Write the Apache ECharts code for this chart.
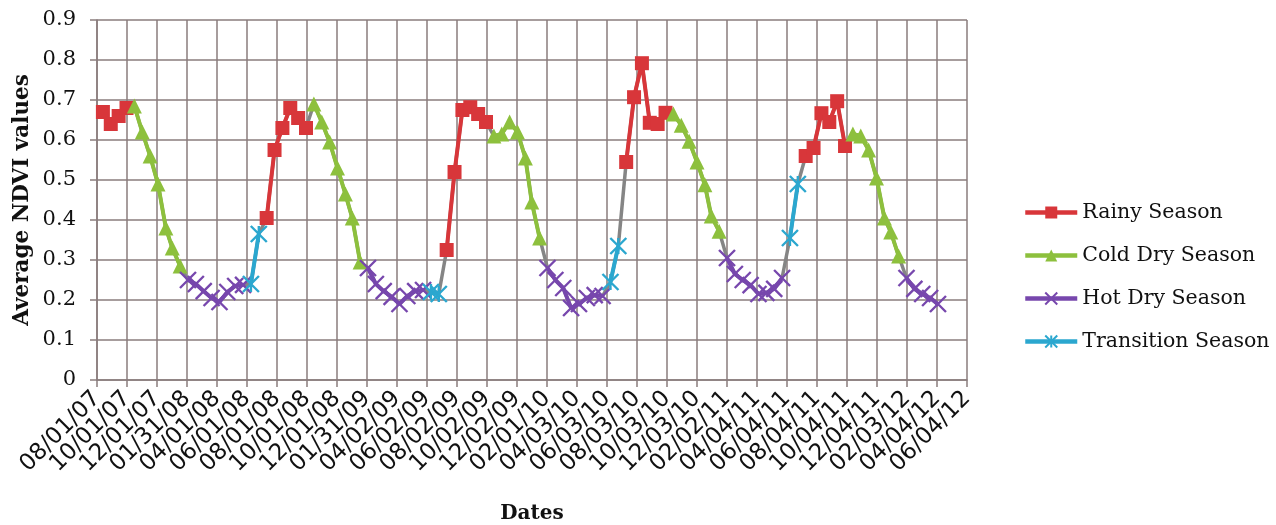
<!DOCTYPE html>
<html>
<head>
<meta charset="utf-8">
<script src="https://cdn.jsdelivr.net/npm/echarts@6/dist/echarts.min.js"></script>
<style>
html,body{margin:0;padding:0;background:#fff;}
#chart{width:1276px;height:525px;}
</style>
</head>
<body>
<div id="chart"></div>
<script>
// Composite dates of each observation
const dates = [
 '2007-08-13','2007-08-29','2007-09-14','2007-09-30','2007-10-16','2007-11-01','2007-11-17','2007-12-03','2007-12-19',
 '2008-01-01','2008-01-17','2008-02-02','2008-02-18','2008-03-05','2008-03-21','2008-04-06','2008-04-22','2008-05-08','2008-05-24',
 '2008-06-09','2008-06-25','2008-07-11','2008-07-27','2008-08-12','2008-08-28','2008-09-13','2008-09-29','2008-10-15','2008-10-31',
 '2008-11-16','2008-12-02','2008-12-18',
 '2009-01-01','2009-01-17','2009-02-02','2009-02-18','2009-03-06','2009-03-22','2009-04-07','2009-04-23','2009-05-09','2009-05-25',
 '2009-06-10','2009-06-26','2009-07-12','2009-07-28','2009-08-13','2009-08-29','2009-09-14','2009-09-30','2009-10-16','2009-11-01',
 '2009-11-17','2009-12-03','2009-12-19',
 '2010-01-01','2010-01-17','2010-02-02','2010-02-18','2010-03-06','2010-03-22','2010-04-07','2010-04-23','2010-05-09','2010-05-25',
 '2010-06-10','2010-06-26','2010-07-12','2010-07-28','2010-08-13','2010-08-29','2010-09-14','2010-09-30','2010-10-16','2010-11-01',
 '2010-11-17','2010-12-03','2010-12-19',
 '2011-01-01','2011-01-17','2011-02-02','2011-02-18','2011-03-06','2011-03-22','2011-04-07','2011-04-23','2011-05-09','2011-05-25',
 '2011-06-10','2011-06-26','2011-07-12','2011-07-28','2011-08-13','2011-08-29','2011-09-14','2011-09-30','2011-10-16','2011-11-01',
 '2011-11-17','2011-12-03','2011-12-19',
 '2012-01-01','2012-01-17','2012-02-02','2012-02-18','2012-03-05','2012-03-21','2012-04-06'
];
// Average NDVI values
const ndvi = [
 0.67,0.64,0.66,0.68,0.685,0.62,0.56,0.49,0.38,
 0.33,0.285,0.25,0.24,0.222,0.205,0.195,0.22,0.235,0.238,
 0.24,0.365,0.405,0.575,0.63,0.68,0.655,0.63,0.69,0.645,
 0.595,0.53,0.465,
 0.405,0.295,0.28,0.24,0.222,0.208,0.19,0.21,0.222,0.225,
 0.22,0.215,0.325,0.52,0.675,0.682,0.665,0.645,0.61,0.615,
 0.645,0.62,0.555,
 0.445,0.355,0.28,0.25,0.23,0.18,0.19,0.205,0.212,0.21,
 0.245,0.335,0.545,0.707,0.792,0.643,0.64,0.668,0.665,0.637,
 0.597,0.545,0.488,
 0.41,0.372,0.305,0.265,0.25,0.237,0.215,0.218,0.228,0.255,
 0.355,0.49,0.56,0.58,0.667,0.645,0.697,0.585,0.615,0.61,
 0.575,0.505,0.405,
 0.37,0.31,0.255,0.228,0.215,0.205,0.19
];
// Season of each observation: R rainy, C cold dry, H hot dry, T transition
const season = [
 'R','R','R','R','C','C','C','C','C',
 'C','C','H','H','H','H','H','H','H','H',
 'T','T','R','R','R','R','R','R','C','C',
 'C','C','C',
 'C','C','H','H','H','H','H','H','H','H',
 'T','T','R','R','R','R','R','R','C','C',
 'C','C','C',
 'C','C','H','H','H','H','H','H','H','H',
 'T','T','R','R','R','R','R','R','C','C',
 'C','C','C',
 'C','C','H','H','H','H','H','H','H','H',
 'T','T','R','R','R','R','R','R','C','C',
 'C','C','C',
 'C','C','H','H','H','H','H'
];
const seasonCodes = ['R','C','H','T'];
const seasonNames = ['Rainy Season','Cold Dry Season','Hot Dry Season','Transition Season'];

const DAY = 86400000;
const ORIGIN = Date.UTC(2007,7,1);
const STEP = 61;
const toDay = s => (Date.parse(s + 'T00:00:00Z') - ORIGIN) / DAY;
const pad = n => (n < 10 ? '0' : '') + n;
const fmt = d => { const t = new Date(ORIGIN + d * DAY); return pad(t.getUTCMonth()+1) + '/' + pad(t.getUTCDate()) + '/' + pad(t.getUTCFullYear() % 100); };
const fmtParity = p => v => (Math.round(v / STEP) % 2 === p ? fmt(v) : '');

const colors = {R:'#d8363a', C:'#8dc03d', H:'#7747ad', T:'#2ba7cf'};
const symbols = {
  R:'rect',
  C:'triangle',
  H:'path://M0,0L10,10M10,0L0,10',
  T:'path://M0,0L10,10M10,0L0,10M5,0L5,10'
};
const sizes = {R:14, C:15, H:16, T:16};

const allPts = dates.map((d,i) => [toDay(d), ndvi[i]]);
const series = [{
  name:'all', type:'line', data: allPts, symbol:'none', z:1,
  lineStyle:{color:'#858585', width:3.5}, silent:true
}];
seasonCodes.forEach((c,k) => {
  const isPath = symbols[c].startsWith('path');
  series.push({
    name: seasonNames[k], type:'line', z:2,
    data: dates.map((d,i) => season[i] === c ? [toDay(d), ndvi[i]] : [toDay(d), '-']),
    symbol: symbols[c], symbolSize: sizes[c], showSymbol:true,
    lineStyle:{color: colors[c], width:4},
    itemStyle: isPath ? {color: colors[c], borderColor: colors[c], borderWidth: 2.4} : {color: colors[c]}
  });
});

const gridCol = '#8a7d7d';
const labelBase = {rotate:45, margin:15, fontFamily:'DejaVu Sans', fontSize:23, color:'#111', showMinLabel:true, showMaxLabel:true, hideOverlap:false};
const chart = echarts.init(document.getElementById('chart'), null, {renderer:'canvas'});
chart.setOption({
  backgroundColor:'#fff',
  animation:false,
  grid:{left:97, right:309, top:20, bottom:145, containLabel:false, outerBoundsMode:'none'},
  legend:{
    data: seasonNames, orient:'vertical', left:1018, top:197,
    itemWidth:52, itemHeight:15, itemGap:22,
    lineStyle:{width:4.5},
    textStyle:{fontFamily:'DejaVu Serif', fontSize:20.5, color:'#111'}
  },
  xAxis:[{
    type:'value', min:0, max:1769, interval:STEP, position:'bottom',
    name:'Dates', nameLocation:'middle', nameGap:124, nameMoveOverlap:false,
    nameTextStyle:{fontFamily:'DejaVu Serif', fontWeight:'bold', fontSize:20, color:'#111'},
    axisLine:{show:true, lineStyle:{color:gridCol, width:1.5}},
    axisTick:{show:true, length:7, lineStyle:{color:gridCol, width:1.5}},
    splitLine:{show:true, lineStyle:{color:gridCol, width:1.5}},
    axisLabel:Object.assign({formatter: fmtParity(0)}, labelBase)
  },{
    type:'value', min:0, max:1769, interval:STEP, position:'bottom', offset:0,
    axisLine:{show:false}, axisTick:{show:false}, splitLine:{show:false},
    axisLabel:Object.assign({formatter: fmtParity(1)}, labelBase)
  }],
  yAxis:{
    type:'value', min:0, max:0.9, interval:0.1,
    name:'Average NDVI values', nameLocation:'middle', nameGap:64, nameRotate:90, nameMoveOverlap:false,
    nameTextStyle:{fontFamily:'DejaVu Serif', fontWeight:'bold', fontSize:21.5, color:'#111'},
    axisLine:{show:true, lineStyle:{color:gridCol, width:1.5}},
    axisTick:{show:true, length:7, lineStyle:{color:gridCol, width:1.5}},
    splitLine:{show:true, lineStyle:{color:gridCol, width:1.5}},
    axisLabel:{margin:21, formatter:v => (Math.round(v*10)/10).toString(), fontFamily:'DejaVu Serif', fontSize:21, color:'#111'}
  },
  series: series
});
</script>
</body>
</html>
